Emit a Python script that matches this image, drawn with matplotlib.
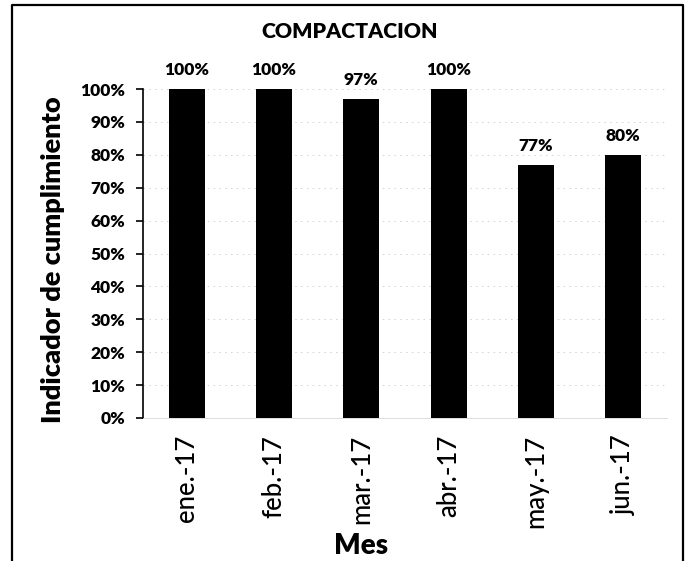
import matplotlib
matplotlib.use("Agg")
import matplotlib.pyplot as plt
from matplotlib.lines import Line2D
from matplotlib.ticker import PercentFormatter

categories = ["ene.-17", "feb.-17", "mar.-17", "abr.-17", "may.-17", "jun.-17"]
values = [1.00, 1.00, 0.97, 1.00, 0.77, 0.80]
value_labels = ["100%", "100%", "97%", "100%", "77%", "80%"]
yticks = [0.0, 0.1, 0.2, 0.3, 0.4, 0.5, 0.6, 0.7, 0.8, 0.9, 1.0]

plt.rcParams['font.family'] = ['Lato', 'DejaVu Sans']

W, H = 689, 561
fig = plt.figure(figsize=(W/100, H/100), dpi=100)
ax = fig.add_axes([143/W, 1 - 418/H, (667 - 143)/W, (418 - 89)/H])

x = range(len(categories))
ax.bar(x, values, width=0.41, color="black", zorder=3)
for xi, v, lab in zip(x, values, value_labels):
    ax.text(xi, v + 0.033, lab, ha="center", va="bottom", fontsize=12.5, fontweight="heavy")

ax.set_xlim(-0.5, len(categories) - 0.5)
ax.set_ylim(0, 1)
ax.set_yticks(yticks)
ax.yaxis.set_major_formatter(PercentFormatter(1.0, decimals=0))
for lbl in ax.get_yticklabels():
    lbl.set_fontweight("heavy")
ax.tick_params(axis="y", labelsize=12.5, length=5, width=1.2, direction="out", pad=8)
ax.set_xticks(list(x))
ax.set_xticklabels(categories, rotation=90, fontsize=18.5, fontweight="medium")
ax.tick_params(axis="x", length=0, pad=12)

ax.grid(axis="y", color="#d0d0d0", linestyle=(0, (2, 5)), linewidth=0.6, zorder=0)
for s in ["top", "right"]:
    ax.spines[s].set_visible(False)
ax.spines["bottom"].set_color("#d8d8d8")
ax.spines["bottom"].set_linewidth(0.6)
ax.spines["left"].set_linewidth(1.2)

fig.text(53/W, 1 - 260/H, "Indicador de cumplimiento", rotation=90, ha="center", va="center",
         fontsize=19.5, fontweight="heavy")
fig.text(361/W, 1 - 546/H, "Mes", ha="center", va="center", fontsize=20, fontweight="heavy")
fig.text(350/W, 1 - 32/H, "COMPACTACION", ha="center", va="center", fontsize=15.3, fontweight="heavy")

fx = [12/W, 12/W, 683/W, 683/W]
fy = [0.0, 1 - 5/H, 1 - 5/H, 0.0]
fig.lines.append(Line2D(fx, fy, transform=fig.transFigure, color="black", linewidth=1.6))

fig.savefig("out.png", dpi=100)
